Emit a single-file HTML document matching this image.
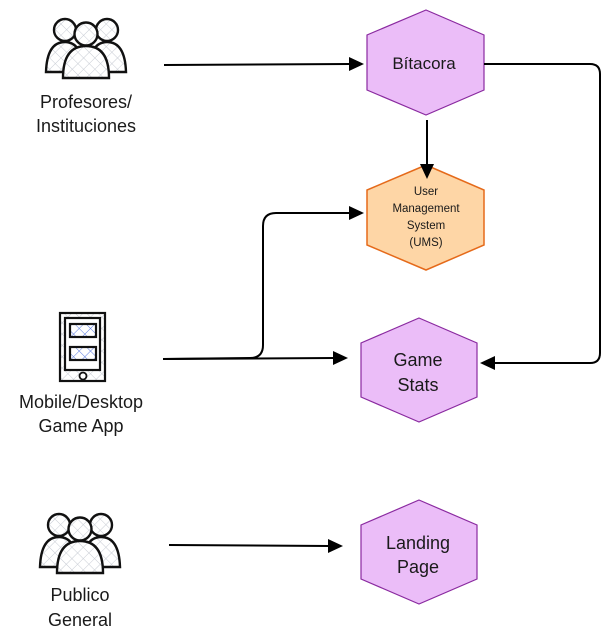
<!DOCTYPE html>
<html><head><meta charset="utf-8"><style>
body{margin:0;background:#fff;}
svg{display:block}
text{font-family:"Liberation Sans",sans-serif;fill:#1a1a1a}
</style></head><body>
<svg width="610" height="642" viewBox="0 0 610 642" xmlns="http://www.w3.org/2000/svg">
<defs>
<pattern id="hx" width="8" height="8" patternUnits="userSpaceOnUse" patternTransform="rotate(45)">
<rect width="8" height="8" fill="#fff"/><path d="M0 0V8M0 0H8" stroke="#c8ccd4" stroke-width="1"/></pattern>
<pattern id="bx" width="8" height="8" patternUnits="userSpaceOnUse" patternTransform="rotate(45)">
<rect width="8" height="8" fill="#fff"/><path d="M0 0V8M0 0H8" stroke="#5a7be0" stroke-width="1"/></pattern>
<g id="ppl" stroke="#111" stroke-width="2.4" fill="url(#hx)">
<path d="M2 54 Q3 24 21 24 Q38 24 40 54 Z"/>
<path d="M44 54 Q46 24 63 24 Q81 24 82 54 Z"/>
<circle cx="21" cy="12" r="11"/><circle cx="63" cy="12" r="11"/>
<path d="M19 60 Q19 28 42 28 Q65 28 65 60 Z"/>
<circle cx="42" cy="16" r="11.5"/>
</g>
</defs>
<use href="#ppl" x="44" y="18"/>
<use href="#ppl" x="38" y="513"/>
<text x="86" y="108" font-size="18" text-anchor="middle">Profesores/</text>
<text x="86" y="132" font-size="18" text-anchor="middle">Instituciones</text>
<rect x="60" y="313" width="45" height="68" fill="url(#hx)" stroke="#111" stroke-width="2.2"/>
<rect x="65" y="318" width="35" height="52" fill="#fff" stroke="#111" stroke-width="2.2"/>
<rect x="70" y="324" width="26" height="13" fill="url(#bx)" stroke="#111" stroke-width="2.2"/>
<rect x="70" y="347" width="26" height="13" fill="url(#bx)" stroke="#111" stroke-width="2.2"/>
<circle cx="83" cy="376" r="3.5" fill="#fff" stroke="#111" stroke-width="1.8"/>
<text x="81" y="408" font-size="18" text-anchor="middle">Mobile/Desktop</text>
<text x="81" y="432" font-size="18" text-anchor="middle">Game App</text>
<text x="80" y="601" font-size="18" text-anchor="middle">Publico</text>
<text x="80" y="626" font-size="18" text-anchor="middle">General</text>
<path d="M426 10 L484 35 L484 90 L426 115 L367 90 L367 35 Z" fill="#ebbdf8" stroke="#8a2aa0" stroke-width="1.2"/>
<text x="424" y="69" font-size="17" text-anchor="middle">Bítacora</text>
<path d="M426 165 L484 190 L484 245 L426 270 L367 245 L367 190 Z" fill="#fed6a6" stroke="#e56a1a" stroke-width="1.5"/>
<text font-size="11.5" text-anchor="middle"><tspan x="426" y="195">User</tspan><tspan x="426" y="212">Management</tspan><tspan x="426" y="229">System</tspan><tspan x="426" y="246">(UMS)</tspan></text>
<path d="M419 318 L477 343 L477 397 L419 422 L361 397 L361 343 Z" fill="#ebbdf8" stroke="#8a2aa0" stroke-width="1.2"/>
<text x="418" y="366" font-size="18" text-anchor="middle">Game</text>
<text x="418" y="391" font-size="18" text-anchor="middle">Stats</text>
<path d="M419 500 L477 525 L477 579 L419 604 L361 579 L361 525 Z" fill="#ebbdf8" stroke="#8a2aa0" stroke-width="1.2"/>
<text x="418" y="549" font-size="18" text-anchor="middle">Landing</text>
<text x="418" y="573" font-size="18" text-anchor="middle">Page</text>
<g stroke="#000" stroke-width="2" fill="none">
<path d="M164 65 L350 64"/>
<path d="M427 120 L427 165"/>
<path d="M484 64 L590 64 Q600 64 600 74 L600 353 Q600 363 590 363 L494 363"/>
<path d="M163 359 L250 358 Q263 358 263 345 L263 226 Q263 213 276 213 L350 213"/>
<path d="M163 359 L334 358"/>
<path d="M169 545 L329 546"/>
</g>
<g fill="#000">
<path d="M349 57 L364 64 L349 71 Z"/>
<path d="M420 164 L427 179 L434 164 Z"/>
<path d="M495 356 L480 363 L495 370 Z"/>
<path d="M349 206 L364 213 L349 220 Z"/>
<path d="M333 351 L348 358 L333 365 Z"/>
<path d="M328 539 L343 546 L328 553 Z"/>
</g>
</svg>
</body></html>
